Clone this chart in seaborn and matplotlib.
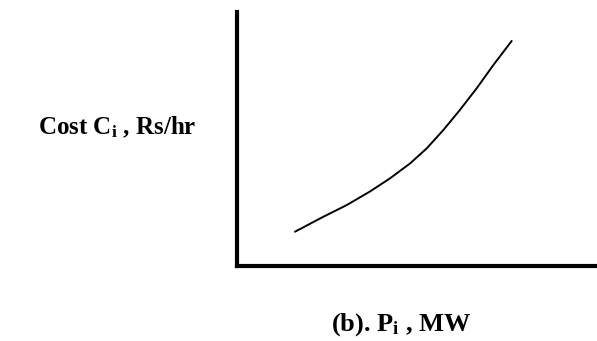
import matplotlib
matplotlib.use("Agg")
import matplotlib.pyplot as plt
import seaborn as sns

# Cost curve (arbitrary units, axes run 0..10)
power = [1.61, 2.40, 3.05, 3.69, 4.25, 4.81, 5.27, 5.73, 6.19, 6.66, 7.12, 7.63]
cost = [1.35, 1.94, 2.40, 2.93, 3.45, 4.04, 4.63, 5.35, 6.14, 7.00, 7.91, 8.86]

x_label = r"(b). P$_\mathrm{i}$ , MW"
y_label = r"Cost C$_\mathrm{i}$ , Rs/hr"

sns.set_style("white")
plt.rcParams["font.family"] = ["Liberation Serif", "DejaVu Serif"]
plt.rcParams["font.weight"] = "bold"
plt.rcParams["text.color"] = "black"
plt.rcParams["mathtext.fontset"] = "custom"
plt.rcParams["mathtext.rm"] = "Liberation Serif:bold"
plt.rcParams["mathtext.default"] = "rm"

fig = plt.figure(figsize=(5.97, 3.41), dpi=100)
W, H = 597, 341
ax = fig.add_axes([237 / W, (H - 266) / H, 360 / W, (266 - 12) / H])

sns.lineplot(x=power, y=cost, color="black", linewidth=1.4, ax=ax)

ax.set_xlim(0, 10)
ax.set_ylim(0, 10)
ax.set_xticks([])
ax.set_yticks([])
for side in ["top", "right"]:
    ax.spines[side].set_visible(False)
for side in ["left", "bottom"]:
    ax.spines[side].set_linewidth(3)
    ax.spines[side].set_color("black")
    ax.spines[side].set_capstyle("projecting")

fig.text(38 / W, (H - 134) / H, y_label, fontsize=18, fontweight="bold",
         color="black", ha="left", va="baseline")
fig.text(401 / W, (H - 331) / H, x_label, fontsize=19, fontweight="bold",
         color="black", ha="center", va="baseline")

fig.savefig("out.png", dpi=100, facecolor="white")
